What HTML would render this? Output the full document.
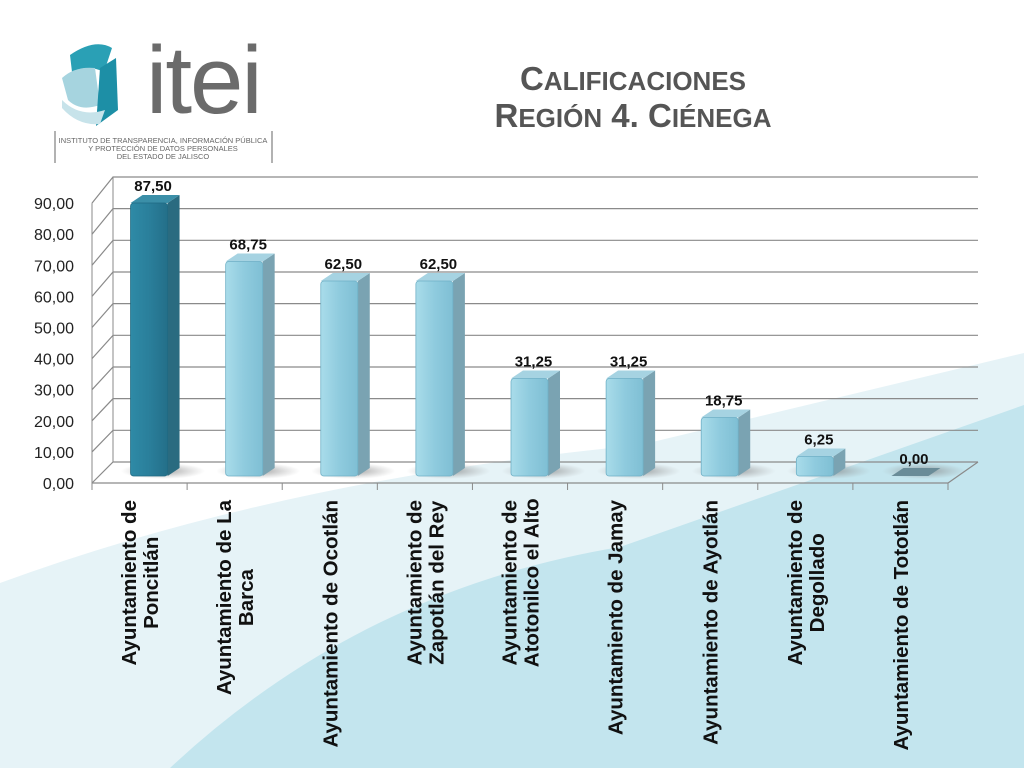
<!DOCTYPE html>
<html><head><meta charset="utf-8">
<style>
html,body{margin:0;padding:0;width:1024px;height:768px;overflow:hidden;background:#fff;font-family:"Liberation Sans",sans-serif}
svg{position:absolute;left:0;top:0}
</style></head>
<body>
<svg width="1024" height="768">
<defs>
<linearGradient id="gLight" x1="0" x2="1"><stop offset="0" stop-color="#a9dcea"/><stop offset="0.5" stop-color="#8fcbde"/><stop offset="1" stop-color="#7fbfd4"/></linearGradient>
<linearGradient id="gDark" x1="0" x2="1"><stop offset="0" stop-color="#2e8aa6"/><stop offset="0.5" stop-color="#2a7f9b"/><stop offset="1" stop-color="#246f89"/></linearGradient>
<radialGradient id="gShadow"><stop offset="0" stop-color="#777" stop-opacity="0.7"/><stop offset="1" stop-color="#999" stop-opacity="0"/></radialGradient>
</defs>
<path d="M0,583 Q280,480 640,445 L1024,353 L1024,768 L0,768 Z" fill="#e6f3f7"/>
<path d="M170,768 Q360,590 620,547 L1024,405 L1024,768 Z" fill="#c3e5ee"/>

<g>
<path d="M70,55 Q95,38 112,48 L104,72 Q88,64 72,72 Z" fill="#2aa0b5"/>
<path d="M62,78 Q75,66 95,68 L100,105 Q80,112 68,100 Z" fill="#a6d4df"/>
<path d="M100,68 L116,58 L118,110 L96,126 Z" fill="#1d8fa6"/>
<path d="M62,100 Q80,118 105,110 L100,124 Q78,126 62,108 Z" fill="#c7e3ea"/>
<text x="146" y="113" font-size="96" fill="#6b6b6b" font-family="Liberation Sans" letter-spacing="-2">itei</text>
<line x1="55" y1="131" x2="55" y2="163" stroke="#999" stroke-width="1.5"/>
<line x1="272" y1="131" x2="272" y2="163" stroke="#999" stroke-width="1.5"/>
<text x="163" y="143" font-size="7.5" fill="#666" text-anchor="middle">INSTITUTO DE TRANSPARENCIA, INFORMACIÓN PÚBLICA</text>
<text x="163" y="151" font-size="7.5" fill="#666" text-anchor="middle">Y PROTECCIÓN DE DATOS PERSONALES</text>
<text x="163" y="159" font-size="7.5" fill="#666" text-anchor="middle">DEL ESTADO DE JALISCO</text>
</g>

<g fill="#555" font-weight="bold" text-anchor="middle">
<text x="633" y="90" font-size="33">C<tspan font-size="26">ALIFICACIONES</tspan></text>
<text x="633" y="127" font-size="33">R<tspan font-size="26">EGIÓN</tspan> 4. C<tspan font-size="26">IÉNEGA</tspan></text>
</g>

<g id="chart"></g>
</svg>
<script>
const categories=[["Ayuntamiento de","Poncitlán"],["Ayuntamiento de La","Barca"],["Ayuntamiento de Ocotlán"],["Ayuntamiento de","Zapotlán del Rey"],["Ayuntamiento de","Atotonilco el Alto"],["Ayuntamiento de Jamay"],["Ayuntamiento de Ayotlán"],["Ayuntamiento de","Degollado"],["Ayuntamiento de Tototlán"]];
const values=[87.50,68.75,62.50,62.50,31.25,31.25,18.75,6.25,0.00];
const valueLabels=["87,50","68,75","62,50","62,50","31,25","31,25","18,75","6,25","0,00"];
const yTicks=[0,10,20,30,40,50,60,70,80,90];
const yTickLabels=["0,00","10,00","20,00","30,00","40,00","50,00","60,00","70,00","80,00","90,00"];
const highlightIndex=0;

const NS="http://www.w3.org/2000/svg";
const g=document.getElementById('chart');
function el(t,a,p){const e=document.createElementNS(NS,t);for(const k in a)e.setAttribute(k,a[k]);(p||g).appendChild(e);return e;}
const fx0=92,fy0=483,dx=21,fx1=948,step=(fx1-fx0)/categories.length;
const yFront=v=>fy0-v*3.11;
const yBack=v=>462-v*3.167;
const xCat=i=>fx0+step*(i+0.5)+9.5;
const yBar=v=>476-v*3.12;

for(let i=0;i<yTicks.length;i++){
  const v=yTicks[i];
  const gl=el('polyline',{points:`${fx0},${yFront(v)} ${fx0+dx},${yBack(v)} ${978},${yBack(v)}`,fill:'none',stroke:'#8a8a8a','stroke-width':1.2});
  
  
  const t=el('text',{x:fx0-18,y:yFront(v)+6,'font-size':16,fill:'#222','text-anchor':'end'});
  t.textContent=yTickLabels[i];
  
  
}
el('line',{x1:fx0+dx,y1:yBack(0),x2:fx0+dx,y2:yBack(yTicks[yTicks.length-1]),stroke:'#8a8a8a'});
el('line',{x1:fx0,y1:fy0,x2:fx0,y2:yFront(yTicks[yTicks.length-1]),stroke:'#8a8a8a'});
el('polyline',{points:`${fx0},${fy0} ${fx1},${fy0} ${978},${yBack(0)}`,fill:'none',stroke:'#8a8a8a','stroke-width':1.2});
for(let i=0;i<=categories.length;i++){
  const x=fx0+step*i;
  el('line',{x1:x,y1:fy0,x2:x,y2:fy0+7,stroke:'#8a8a8a'});
}
const bw=37,sd=12;
values.forEach((v,i)=>{
  const cx=xCat(i),x=cx-bw/2,top=yBar(v),bot=yBar(0);
  const sh=el('ellipse',{cx:cx+14,cy:bot-5,rx:42,ry:8,fill:'url(#gShadow)'});
  
  
  const dark=i===highlightIndex;
  const grp=el('g',{});
  
  
  if(v>0){
    el('path',{d:`M${x+bw},${top} L${x+bw+sd},${top-8} L${x+bw+sd},${bot-8} L${x+bw},${bot} Z`,fill:dark?'#2a6b80':'#7aa3b2'},grp);
    el('path',{d:`M${x},${top} L${x+sd},${top-8} L${x+bw+sd},${top-8} L${x+bw},${top} Z`,fill:dark?'#3b8fa8':'#a6d3e2'},grp);
    el('rect',{x:x,y:top,width:bw,height:bot-top,rx:3,fill:dark?'url(#gDark)':'url(#gLight)',stroke:dark?'#1f6a82':'#6fb0c6','stroke-width':0.8},grp);
  }else{
    el('path',{d:`M${x},${bot} L${x+sd},${bot-8} L${x+bw+sd},${bot-8} L${x+bw},${bot} Z`,fill:'#6a8c98'},grp);
  }
  const t=el('text',{x:cx+4,y:top-12,'font-size':15,'font-weight':'bold',fill:'#111','text-anchor':'middle'});
  t.textContent=valueLabels[i];
  
  
  const lines=categories[i];
  const lg=el('text',{transform:`translate(${cx},500) rotate(-90)`,'font-size':20.5,'font-weight':'bold',fill:'#111','text-anchor':'end'});
  
  
  const n=lines.length;
  const spans=[];
  lines.forEach((ln,j)=>{
    const ts=el('tspan',{x:0,y:(j-(n-1)/2)*22-2},lg);
    ts.textContent=ln;
    spans.push(ts);
  });
  if(n>1){
    const w0=spans[0].getComputedTextLength();
    spans[1].setAttribute('text-anchor','middle');
    spans[1].setAttribute('x',-w0/2);
  }
});
</script>
</body></html>
